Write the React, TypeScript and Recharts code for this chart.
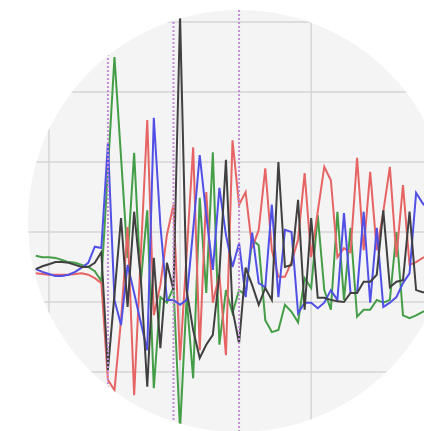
import React from 'react';
import { LineChart, Line, XAxis, YAxis, CartesianGrid, ReferenceLine } from 'recharts';

const steps = [
  0, 1, 2, 3, 4, 5, 6, 7, 8, 9, 10, 11, 12, 13, 14, 15, 16, 17, 18, 19, 20,
  21, 22, 23, 24, 25, 26, 27, 28, 29, 30, 31, 32, 33, 34, 35, 36, 37, 38, 39, 40,
  41, 42, 43, 44, 45, 46, 47, 48, 49, 50, 51, 52, 53, 54, 55, 56, 57, 58, 59, 60,
];

const redValues = [
  -5.9, -6.0, -6.1, -6.1, -6.1, -6.1, -6.0, -5.9, -6.1, -6.6, -7.3, -21.1, -22.6, -12.6, 0.7, -23.3, -3.6, 16.0, -11.9, -7.6, -0.4,
  3.9, -18.3, -3.3, 12.1, -16.9, 5.7, -10.1, -6.1, -17.6, 13.1, 3.9, 5.7, -2.3, 0.3, 9.1, -2.6, -6.4, -6.4, -4.3, -1.1,
  8.4, -3.6, 2.9, 9.3, 7.4, -3.6, -2.3, -2.9, 10.6, -2.6, 8.6, -2.6, 2.9, 9.3, -3.6, 6.7, -4.7, -4.3, -3.7, -3.3,
];

const greenValues = [
  -3.4, -3.6, -3.6, -3.7, -4.0, -4.3, -4.4, -4.7, -5.0, -5.6, -7.0, 8.9, 25.0, 10.7, -3.7, 11.3, -7.3, 3.1, -22.3, -9.3, -10.1,
  -7.9, -28.3, -9.4, -20.9, 4.9, -8.7, 11.4, -16.1, -8.3, -11.6, -8.3, -9.0, -1.1, -1.9, -12.6, -14.3, -14.0, -10.4, -11.4, -12.9,
  -6.6, -8.0, 2.4, -8.3, -11.1, 2.9, -9.7, 0.6, -12.1, -11.1, -11.1, -9.7, -10.1, -9.7, 0.0, -11.9, -12.3, -11.9, -11.4, -11.1,
];

const blueValues = [
  -5.3, -5.7, -6.0, -6.3, -6.3, -6.1, -5.7, -5.1, -4.4, -2.1, -2.3, 12.7, -9.7, -13.3, -4.7, -8.7, -12.9, -16.9, 16.3, 1.0, -9.7,
  -9.7, -10.4, -9.7, 0.3, 11.0, 2.4, -5.4, 6.3, -0.4, -5.0, -1.6, -9.3, -0.1, -7.3, -7.9, 3.9, -9.3, 0.3, 0.0, -11.6,
  -10.1, -10.1, -10.9, -10.1, -8.3, -9.7, 2.7, -8.7, -8.7, 2.9, -10.1, 0.6, -10.7, -10.1, -9.3, -7.3, -5.9, 5.6, 4.1, 3.1,
];

const blackValues = [
  -5.3, -4.9, -4.6, -4.3, -4.3, -4.4, -4.7, -5.0, -5.0, -4.4, -2.9, -19.7, -8.9, 2.0, -10.7, 2.9, -6.4, -22.1, -3.7, -16.6, -4.4,
  -8.3, 31.0, -8.3, -14.0, -18.0, -16.1, -14.7, -5.9, 10.3, -11.1, -15.9, -5.1, -7.6, -10.4, -8.0, -9.7, 10.0, -5.0, -4.7, 4.6,
  -11.1, 2.0, -9.4, -9.4, -9.7, -9.9, -10.0, -8.7, -8.7, -7.1, -7.1, -6.1, 3.1, -7.9, -7.1, -6.9, 2.9, -8.3, -8.6, -8.6,
];

const xTicks = [2, 22, 42, 62];
const yTicks = [-30, -20, -10, 0, 10, 20, 30];
const markerSteps = [11, 21, 31];

const data = steps.map((t, k) => ({
  t,
  red: redValues[k],
  green: greenValues[k],
  blue: blueValues[k],
  black: blackValues[k],
}));

export default function App() {
  return (
    <div style={{ position: 'absolute', left: 0, top: 0, width: 424, height: 431, background: '#ffffff', overflow: 'hidden' }}>
      <div
        style={{
          position: 'absolute',
          left: 28,
          top: 10,
          width: 422,
          height: 422,
          borderRadius: '50%',
          overflow: 'hidden',
          background: '#f4f4f4',
        }}
      >
        <div style={{ position: 'absolute', left: -25, top: -2, filter: 'blur(0.5px)' }}>
          <LineChart width={459} height={448} data={data} margin={{ top: 0, right: 0, bottom: 0, left: 0 }}>
            <CartesianGrid stroke="#d6d6d6" strokeWidth={1.5} />
            <XAxis type="number" dataKey="t" domain={[-5, 65]} ticks={xTicks} hide allowDataOverflow />
            <YAxis type="number" domain={[-32, 32]} ticks={yTicks} hide allowDataOverflow />
            <Line type="linear" dataKey="green" stroke="#449e47" strokeWidth={2} dot={false} isAnimationActive={false} />
            <Line type="linear" dataKey="red" stroke="#e66464" strokeWidth={2} dot={false} isAnimationActive={false} />
            <Line type="linear" dataKey="blue" stroke="#5050e6" strokeWidth={2} dot={false} isAnimationActive={false} />
            <Line type="linear" dataKey="black" stroke="#404040" strokeWidth={2} dot={false} isAnimationActive={false} />
            {markerSteps.map((m) => (
              <ReferenceLine key={m} x={m} stroke="#c48ed6" strokeWidth={2} strokeDasharray="2 2" />
            ))}
          </LineChart>
        </div>
      </div>
    </div>
  );
}
